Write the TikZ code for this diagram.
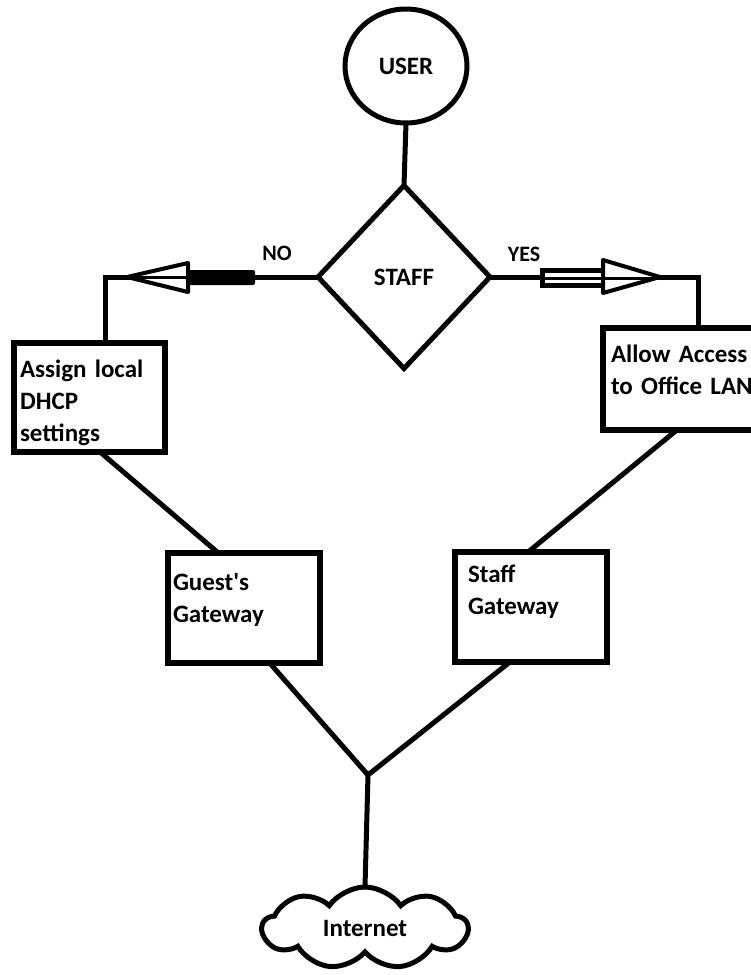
\documentclass[tikz,border=0pt]{standalone}
\usepackage{fontspec}
\setmainfont{Carlito}
\usetikzlibrary{shapes.geometric,shapes.symbols}
\tikzset{conn/.style={line width=5pt, line cap=round},
         procbox/.style={draw, line width=6pt, inner sep=0pt, outer sep=0pt,
                         anchor=base west, align=left},
         fathead/.style={line width=4pt, fill=white, line join=round},
         lbl/.style={font=\fontsize{22}{26}\selectfont\bfseries}}

\begin{document}
\begin{tikzpicture}[x=1pt,y=-1pt,font=\fontsize{25}{32}\selectfont\bfseries]
  \useasboundingbox (0,0) rectangle (751,975);
  \clip (0,0) rectangle (751,975);

  \node[ellipse, draw, line width=5pt, minimum width=122pt, minimum height=114pt,
        inner sep=0pt, outer sep=0pt] (user) at (406,66) {USER};
  \node[diamond, draw, line width=5pt, minimum width=172pt, minimum height=183pt,
        inner sep=0pt, outer sep=0pt] (staff) at (404,277) {STAFF};

  \node[procbox, inner xsep=6pt, text width=139pt, text height=34pt, text depth=75pt]
       (dhcp) at (14,377) {Assign local\\DHCP\\settings};
  \node[procbox, inner xsep=8pt, text width=161pt, text height=34pt, text depth=68pt]
       (allow) at (603,362) {Allow Access\\to Office LAN};
  \node[procbox, inner xsep=5pt, text width=142pt, text height=37pt, text depth=73pt]
       (guest) at (168,590) {Guest\textquotesingle s\\Gateway};
  \node[procbox, inner xsep=13pt, text width=126pt, text height=30pt, text depth=80pt]
       (staffgw) at (455,582) {Staff\\Gateway};

  \node[cloud, draw, line width=5pt, cloud puffs=9, cloud puff arc=110, aspect=2.4,
        minimum width=205pt, minimum height=82pt, inner sep=0pt, outer sep=0pt]
       (net) at (365,928) {Internet};

  \coordinate (noturn) at (105,277);
  \coordinate (yesturn) at (698,277);
  \coordinate (join) at (368,775);

  % connectors
  \draw[conn] (user.south) -- (staff.north);
  \draw[conn] (staff.west) -- (noturn) -- (noturn |- dhcp.north);
  \draw[conn] (staff.east) -- (yesturn) -- (yesturn |- allow.north);
  \draw[conn] (dhcp.-79) -- (guest.115);
  \draw[conn] (allow.-106) -- (staffgw.93);
  \draw[conn] (guest.-65) -- (join) -- (staffgw.-111);
  \draw[conn] (join) -- (net.north);

  \node[lbl] (nolbl) at (277,253) {NO};
  \node[lbl] (yeslbl) at (524,254) {YES};

  % the two block arrows
  \fill[rounded corners=2pt] (188,270) rectangle (255,285);
  \draw[fathead] (127,277) -- (188,263) -- (188,292) -- cycle;
  \draw[line width=3pt] (127,277) -- (188,277);

  \draw[line width=5pt, fill=white] (542,270) rectangle (603,285);
  \draw[fathead] (603,260) -- (660,277) -- (603,293) -- cycle;
  \draw[line width=3pt] (542,278) -- (660,278);
\end{tikzpicture}
\end{document}
